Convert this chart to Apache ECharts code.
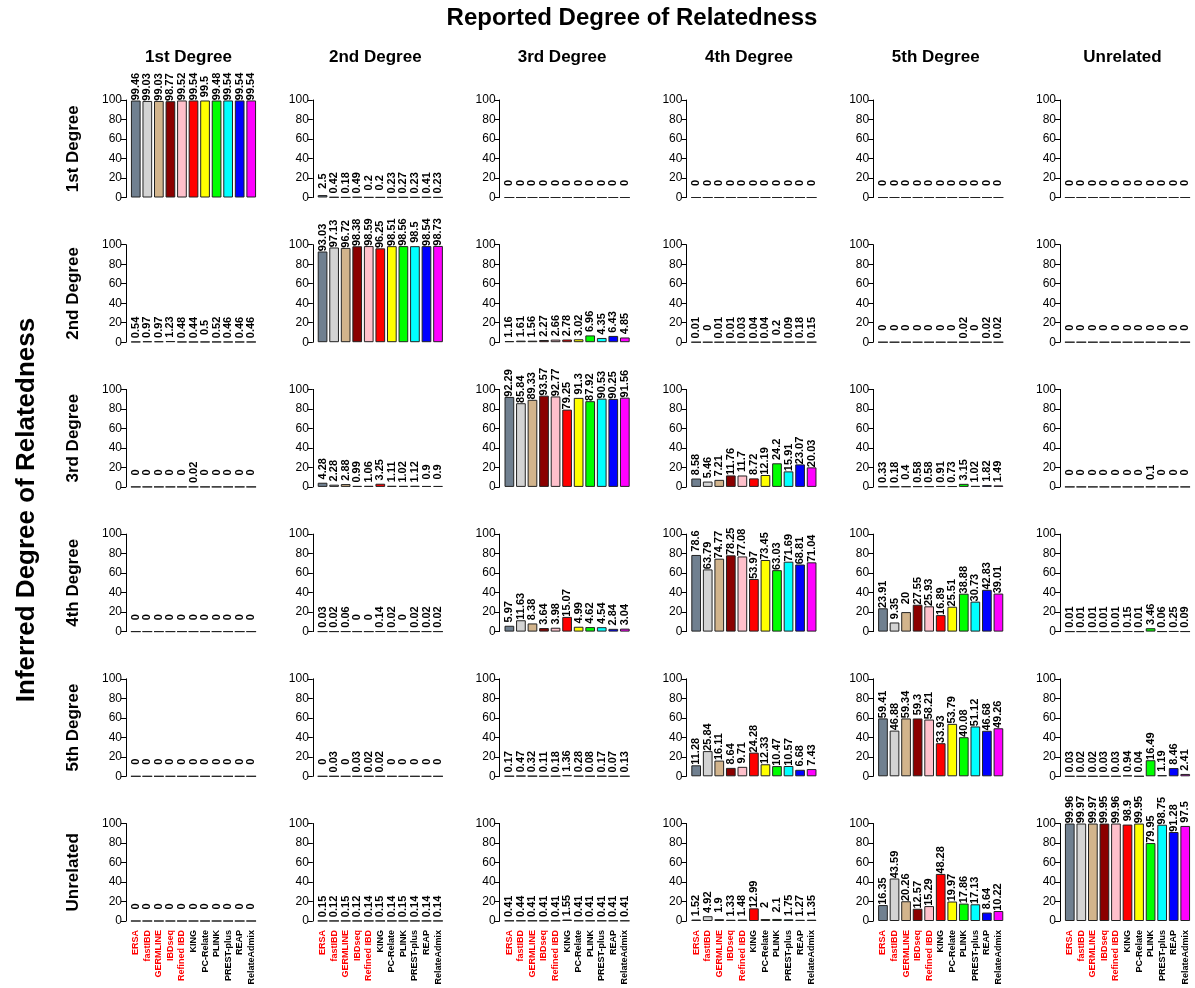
<!DOCTYPE html>
<html><head><meta charset="utf-8">
<script src="https://cdn.jsdelivr.net/npm/echarts@6/dist/echarts.min.js"></script>
<style>html,body{margin:0;padding:0;background:#fff}#c{width:1195px;height:988px}</style>
</head><body><div id="c"></div>
<script>
const methods = ['ERSA','fastIBD','GERMLINE','IBDseq','Refined IBD','KING','PC-Relate','PLINK','PREST-plus','REAP','RelateAdmix'];
const methodLabelColors = ['#ff0000','#ff0000','#ff0000','#ff0000','#ff0000','#000000','#000000','#000000','#000000','#000000','#000000'];
const barColors = ['#708090','#d3d3d3','#d2b48c','#8b0000','#ffc0cb','#ff0000','#ffff00','#00ff00','#00ffff','#0000ff','#ff00ff'];
const reportedLabels = ['1st Degree','2nd Degree','3rd Degree','4th Degree','5th Degree','Unrelated'];
const inferredLabels = ['1st Degree','2nd Degree','3rd Degree','4th Degree','5th Degree','Unrelated'];
const yTicks = [0,20,40,60,80,100];

// each row = inferred degree; each inner list = reported degree column
const inferred1st = [
  [99.46,99.03,99.03,98.77,99.52,99.54,99.5,99.48,99.54,99.54,99.54],
  [2.5,0.42,0.18,0.49,0.2,0.2,0.23,0.27,0.23,0.41,0.23],
  [0,0,0,0,0,0,0,0,0,0,0],
  [0,0,0,0,0,0,0,0,0,0,0],
  [0,0,0,0,0,0,0,0,0,0,0],
  [0,0,0,0,0,0,0,0,0,0,0]
];
const inferred2nd = [
  [0.54,0.97,0.97,1.23,0.48,0.44,0.5,0.52,0.46,0.46,0.46],
  [93.03,97.13,96.72,98.38,98.59,96.25,98.51,98.56,98.5,98.54,98.73],
  [1.16,1.61,1.56,2.27,2.66,2.78,3.02,6.96,4.35,6.43,4.85],
  [0.01,0,0.01,0.01,0.03,0.04,0.04,0.2,0.09,0.18,0.15],
  [0,0,0,0,0,0,0,0.02,0,0.02,0.02],
  [0,0,0,0,0,0,0,0,0,0,0]
];
const inferred3rd = [
  [0,0,0,0,0,0.02,0,0,0,0,0],
  [4.28,2.28,2.88,0.99,1.06,3.25,1.11,1.02,1.12,0.9,0.9],
  [92.29,85.84,89.33,93.57,92.77,79.25,91.3,87.92,90.53,90.25,91.56],
  [8.58,5.46,7.21,11.76,11.7,8.72,12.19,24.2,15.91,23.07,20.03],
  [0.33,0.18,0.4,0.58,0.58,0.91,0.73,3.15,1.02,1.82,1.49],
  [0,0,0,0,0,0,0,0.1,0,0,0]
];
const inferred4th = [
  [0,0,0,0,0,0,0,0,0,0,0],
  [0.03,0.02,0.06,0,0,0.14,0.02,0,0.02,0.02,0.02],
  [5.97,11.63,8.38,3.64,3.98,15.07,4.99,4.62,4.54,2.84,3.04],
  [78.6,63.79,74.77,78.25,77.08,53.97,73.45,63.03,71.69,68.81,71.04],
  [23.91,9.35,20,27.55,25.93,16.89,25.51,38.88,30.73,42.83,39.01],
  [0.01,0.01,0.01,0.01,0.01,0.15,0.01,3.46,0.06,0.25,0.09]
];
const inferred5th = [
  [0,0,0,0,0,0,0,0,0,0,0],
  [0,0.03,0,0.03,0.02,0.02,0,0,0,0,0],
  [0.17,0.47,0.32,0.11,0.18,1.36,0.28,0.08,0.17,0.07,0.13],
  [11.28,25.84,16.11,8.64,9.71,24.28,12.33,10.47,10.57,6.68,7.43],
  [59.41,46.88,59.34,59.3,58.21,33.93,53.79,40.08,51.12,46.68,49.26],
  [0.03,0.02,0.02,0.03,0.03,0.94,0.04,16.49,1.19,8.46,2.41]
];
const inferredUnrelated = [
  [0,0,0,0,0,0,0,0,0,0,0],
  [0.15,0.12,0.15,0.12,0.14,0.15,0.14,0.15,0.14,0.14,0.14],
  [0.41,0.44,0.41,0.41,0.41,1.55,0.41,0.41,0.41,0.41,0.41],
  [1.52,4.92,1.9,1.33,1.48,12.99,2,2.1,1.75,1.27,1.35],
  [16.35,43.59,20.26,12.57,15.29,48.28,19.97,17.86,17.13,8.64,10.22],
  [99.96,99.97,99.97,99.95,99.96,98.9,99.95,79.95,98.75,91.28,97.5]
];
const rows = [inferred1st, inferred2nd, inferred3rd, inferred4th, inferred5th, inferredUnrelated];

const FONT = '"Liberation Sans", Arial, Helvetica, sans-serif';
const colLeft0 = 130, colStep = 186.8, gridW = 127;
const rowTop0 = 100, rowStep = 144.7, gridH = 97.5;

const grids = [], xAxes = [], yAxes = [], series = [], graphics = [];
for (let r = 0; r < 6; r++) {
  for (let c = 0; c < 6; c++) {
    const i = r * 6 + c;
    grids.push({left: colLeft0 + c * colStep, top: rowTop0 + r * rowStep, width: gridW, height: gridH, containLabel: false});
    xAxes.push({
      type: 'category', gridIndex: i, data: methods,
      axisLine: {show: false}, axisTick: {show: false},
      axisLabel: {
        show: r === 5, interval: 0, rotate: 90, margin: 9,
        fontSize: 9, fontWeight: 'bold', fontFamily: FONT,
        color: (v, idx) => methodLabelColors[idx]
      }
    });
    yAxes.push({
      type: 'value', gridIndex: i, min: yTicks[0], max: yTicks[yTicks.length - 1], interval: 20,
      offset: 4,
      axisLine: {show: true, lineStyle: {color: '#000', width: 1}},
      axisTick: {show: true, length: 5, lineStyle: {color: '#000'}},
      axisLabel: {fontSize: 12, color: '#000', margin: 4, fontFamily: FONT},
      splitLine: {show: false}
    });
    series.push({
      type: 'bar', xAxisIndex: i, yAxisIndex: i,
      barCategoryGap: '16%',
      data: rows[r][c].map((v, k) => ({value: v, itemStyle: {color: barColors[k]}})),
      itemStyle: {borderColor: '#222', borderWidth: 1},
      label: {
        show: true, position: 'top', distance: 14, rotate: 90,
        align: 'center', verticalAlign: 'middle',
        fontSize: 11, fontWeight: 'bold', color: '#000', fontFamily: FONT,
        formatter: p => String(p.value)
      },
      silent: true
    });
  }
}

graphics.push({type: 'text', x: 632, y: 18, style: {text: 'Reported Degree of Relatedness', font: 'bold 24px ' + FONT, fill: '#000', align: 'center', verticalAlign: 'middle'}});
graphics.push({type: 'text', x: 27, y: 510, rotation: Math.PI / 2, style: {text: 'Inferred Degree of Relatedness', font: 'bold 26px ' + FONT, fill: '#000', align: 'center', verticalAlign: 'middle'}});
for (let c = 0; c < 6; c++) {
  graphics.push({type: 'text', x: 188.5 + c * colStep, y: 57, style: {text: reportedLabels[c], font: 'bold 17px ' + FONT, fill: '#000', align: 'center', verticalAlign: 'middle'}});
}
for (let r = 0; r < 6; r++) {
  graphics.push({type: 'text', x: 73, y: rowTop0 + r * rowStep + gridH / 2, rotation: Math.PI / 2, style: {text: inferredLabels[r], font: 'bold 17px ' + FONT, fill: '#000', align: 'center', verticalAlign: 'middle'}});
}

const chart = echarts.init(document.getElementById('c'), null, {renderer: 'canvas'});
chart.setOption({
  animation: false,
  backgroundColor: '#fff',
  grid: grids, xAxis: xAxes, yAxis: yAxes, series: series,
  graphic: graphics
});
</script></body></html>
